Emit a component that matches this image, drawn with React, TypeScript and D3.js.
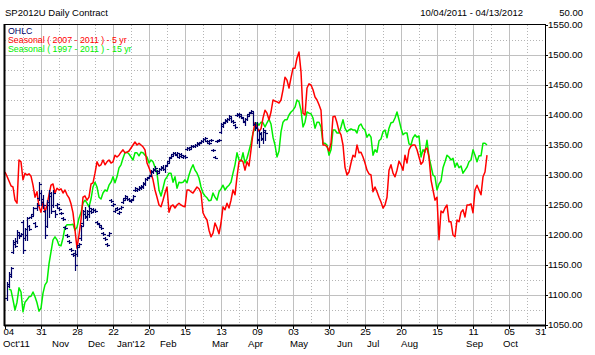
import React from 'react';
import * as d3 from 'd3';

const W = 595;
const H = 355;

const titleText = 'SP2012U Daily Contract';
const rangeText = '10/04/2011 - 04/13/2012';
const stepText = '50.00';
const legendItems = ['OHLC', 'Seasonal ( 2007 - 2011 ) - 5 yr', 'Seasonal ( 1997 - 2011 ) - 15 yr'];

const yTickValues = [1050, 1100, 1150, 1200, 1250, 1300, 1350, 1400, 1450, 1500, 1550];
const dayTickLabels = ['04', '31', '28', '22', '20', '15', '13', '09', '03', '30', '25', '20', '15', '11', '05', '31'];
const sessionsPerTick = 18;
const monthLabels = ["Oct'11", 'Nov', 'Dec', "Jan'12", 'Feb', 'Mar', 'Apr', 'May', 'Jun', 'Jul', 'Aug', 'Sep', 'Oct'];
const monthSessions = [-1, 23.5, 41.5, 56, 77.5, 103.5, 121.5, 142.5, 166, 181, 198, 230.5, 249];

// Seasonal 5 yr (2007-2011), one value per session starting at session 0
const redValues = [
  1305, 1298, 1290, 1282, 1280, 1258, 1253, 1325, 1322, 1292, 1303, 1300, 1302, 1298, 1283, 1263, 1272, 1247, 1238, 1255,
  1238, 1250, 1267, 1283, 1285, 1270, 1278, 1275, 1277, 1270, 1275, 1267, 1262, 1252, 1237, 1208, 1178, 1200, 1225, 1263,
  1265, 1258, 1263, 1285, 1287, 1303, 1322, 1315, 1317, 1325, 1317, 1322, 1325, 1320, 1322, 1333, 1330, 1333, 1338, 1342,
  1337, 1338, 1340, 1345, 1350, 1355, 1350, 1353, 1350, 1347, 1342, 1320, 1312, 1303, 1292, 1275, 1263, 1250, 1247, 1258,
  1270, 1280, 1238, 1248, 1250, 1245, 1250, 1253, 1250, 1248, 1247, 1275, 1275, 1272, 1270, 1275, 1280, 1277, 1270, 1237,
  1230, 1225, 1208, 1197, 1203, 1220, 1212, 1202, 1220, 1247, 1242, 1253, 1245, 1258, 1275, 1267, 1297, 1322, 1325, 1322,
  1308, 1322, 1315, 1342, 1370, 1387, 1380, 1373, 1377, 1395, 1408, 1403, 1392, 1405, 1425, 1423, 1422, 1420, 1425, 1442,
  1463, 1458, 1445, 1462, 1478, 1478, 1495, 1505, 1472, 1403, 1400, 1445, 1452, 1450, 1442, 1430, 1425, 1417, 1408, 1350,
  1350, 1347, 1340, 1353, 1397, 1398, 1387, 1373, 1367, 1350, 1313, 1300, 1305, 1320, 1333, 1330, 1350, 1337, 1338, 1330,
  1320, 1308, 1302, 1300, 1272, 1280, 1272, 1263, 1255, 1245, 1250, 1263, 1308, 1317, 1303, 1297, 1308, 1323, 1317, 1308,
  1333, 1320, 1342, 1348, 1350, 1350, 1342, 1330, 1318, 1322, 1342, 1345, 1330, 1292, 1275, 1258, 1263, 1192, 1240, 1237,
  1245, 1250, 1222, 1222, 1200, 1197, 1225, 1222, 1238, 1242, 1230, 1250, 1250, 1252, 1237, 1275, 1283, 1275, 1267, 1297,
  1305, 1333,
];

// Seasonal 15 yr (1997-2011), one value per session starting at greenStart
const greenStart = 2;
const greenValues = [
  1110, 1108, 1092, 1075, 1088, 1112, 1105, 1072, 1088, 1092, 1097, 1098, 1105, 1097, 1087, 1073, 1078, 1103, 1117, 1122,
  1152, 1172, 1192, 1197, 1192, 1183, 1182, 1195, 1213, 1217, 1217, 1217, 1218, 1208, 1213, 1228, 1237, 1253, 1258, 1253,
  1247, 1260, 1280, 1288, 1280, 1263, 1260, 1270, 1275, 1273, 1283, 1288, 1297, 1287, 1297, 1312, 1317, 1328, 1337, 1338,
  1335, 1330, 1325, 1337, 1337, 1332, 1338, 1337, 1333, 1330, 1320, 1325, 1322, 1313, 1303, 1275, 1265, 1278, 1292, 1297,
  1303, 1303, 1288, 1297, 1278, 1288, 1287, 1288, 1292, 1287, 1300, 1310, 1317, 1308, 1303, 1295, 1280, 1270, 1265, 1262,
  1257, 1258, 1270, 1263, 1258, 1272, 1277, 1283, 1275, 1280, 1283, 1288, 1303, 1317, 1337, 1325, 1323, 1337, 1320, 1328,
  1340, 1353, 1370, 1378, 1387, 1383, 1388, 1387, 1380, 1387, 1393, 1385, 1363, 1350, 1330, 1340, 1372, 1388, 1392, 1392,
  1400, 1405, 1408, 1413, 1425, 1422, 1408, 1380, 1388, 1405, 1403, 1402, 1395, 1378, 1388, 1388, 1380, 1353, 1353, 1350,
  1333, 1342, 1375, 1375, 1370, 1370, 1380, 1392, 1378, 1372, 1375, 1377, 1375, 1375, 1370, 1382, 1385, 1378, 1375, 1363,
  1368, 1363, 1333, 1342, 1338, 1357, 1360, 1372, 1375, 1362, 1378, 1387, 1388, 1395, 1405, 1392, 1378, 1367, 1370, 1370,
  1352, 1350, 1362, 1367, 1363, 1365, 1330, 1342, 1338, 1358, 1330, 1315, 1300, 1297, 1275, 1285, 1290, 1312, 1322, 1333,
  1330, 1325, 1328, 1313, 1320, 1312, 1315, 1303, 1308, 1313, 1322, 1325, 1342, 1333, 1322, 1332, 1332, 1353, 1353, 1350,
];

// Daily OHLC [open, high, low, close], first bar at session ohlcStart
const ohlcStart = 1;
const ohlcBars = [
  [1095, 1122, 1092, 1118], [1115, 1138, 1113, 1135], [1132, 1147, 1130, 1145], [1172, 1192, 1170, 1188], [1185, 1195, 1180, 1182],
  [1190, 1208, 1187, 1205], [1200, 1203, 1195, 1198], [1200, 1203, 1198, 1201], [1222, 1225, 1170, 1175], [1195, 1212, 1192, 1210],
  [1200, 1230, 1192, 1228], [1215, 1217, 1208, 1210], [1230, 1233, 1228, 1231], [1235, 1247, 1233, 1245], [1220, 1222, 1213, 1215],
  [1245, 1253, 1242, 1250], [1262, 1288, 1258, 1285], [1270, 1275, 1250, 1255], [1260, 1267, 1245, 1250], [1240, 1242, 1195, 1200],
  [1215, 1258, 1213, 1255], [1250, 1275, 1230, 1270], [1265, 1272, 1237, 1240], [1250, 1275, 1247, 1270], [1240, 1242, 1230, 1235],
  [1250, 1253, 1245, 1252], [1245, 1247, 1242, 1244], [1237, 1238, 1235, 1236], [1228, 1230, 1225, 1227], [1213, 1215, 1210, 1212],
  [1200, 1202, 1197, 1199], [1190, 1192, 1187, 1189], [1176, 1178, 1173, 1175], [1168, 1170, 1165, 1167], [1170, 1175, 1142, 1150],
  [1168, 1182, 1165, 1180], [1183, 1187, 1180, 1185], [1195, 1217, 1192, 1215], [1220, 1242, 1217, 1240], [1235, 1247, 1228, 1232],
  [1230, 1242, 1225, 1240], [1235, 1250, 1230, 1245], [1240, 1242, 1237, 1239], [1243, 1245, 1240, 1242], [1241, 1243, 1238, 1240],
  [1221, 1223, 1218, 1220], [1218, 1220, 1215, 1217], [1213, 1215, 1210, 1212], [1203, 1205, 1200, 1202], [1195, 1197, 1192, 1194],
  [1185, 1187, 1182, 1184], [1200, 1205, 1198, 1203], [1258, 1260, 1255, 1257], [1250, 1253, 1248, 1251], [1240, 1243, 1238, 1241],
  [1245, 1247, 1242, 1244], [1237, 1240, 1235, 1238], [1245, 1248, 1243, 1246], [1255, 1260, 1253, 1258], [1262, 1267, 1260, 1265],
  [1262, 1265, 1258, 1260], [1260, 1262, 1257, 1259], [1257, 1260, 1255, 1258], [1260, 1267, 1258, 1265], [1275, 1280, 1273, 1278],
  [1275, 1278, 1273, 1276], [1277, 1282, 1275, 1280], [1279, 1283, 1277, 1281], [1280, 1288, 1278, 1286], [1285, 1295, 1283, 1293],
  [1294, 1297, 1292, 1295], [1297, 1300, 1295, 1298], [1300, 1308, 1298, 1306], [1305, 1312, 1303, 1310], [1309, 1315, 1307, 1312],
  [1306, 1308, 1302, 1304], [1307, 1312, 1305, 1310], [1310, 1315, 1308, 1313], [1312, 1317, 1308, 1310], [1310, 1317, 1305, 1315],
  [1317, 1322, 1315, 1320], [1324, 1330, 1322, 1328], [1330, 1333, 1328, 1331], [1335, 1338, 1333, 1336], [1336, 1338, 1333, 1335],
  [1334, 1338, 1332, 1337], [1330, 1333, 1328, 1331], [1335, 1337, 1333, 1334], [1330, 1333, 1328, 1332], [1331, 1333, 1328, 1330],
  [1343, 1347, 1342, 1345], [1345, 1347, 1342, 1344], [1346, 1350, 1345, 1349], [1348, 1350, 1347, 1349], [1349, 1352, 1347, 1350],
  [1350, 1355, 1348, 1353], [1352, 1355, 1350, 1354], [1355, 1358, 1353, 1357], [1357, 1362, 1355, 1360], [1360, 1363, 1358, 1362],
  [1357, 1358, 1355, 1356], [1354, 1355, 1352, 1353], [1358, 1360, 1357, 1359], [1342, 1343, 1340, 1341], [1330, 1332, 1328, 1329],
  [1356, 1358, 1355, 1357], [1358, 1360, 1357, 1359], [1372, 1387, 1370, 1385], [1382, 1388, 1380, 1386], [1388, 1393, 1387, 1391],
  [1390, 1395, 1388, 1393], [1394, 1400, 1392, 1398], [1395, 1397, 1388, 1390], [1390, 1392, 1387, 1388], [1383, 1385, 1378, 1380],
  [1400, 1403, 1398, 1401], [1400, 1403, 1397, 1402], [1398, 1400, 1395, 1397], [1395, 1397, 1388, 1390], [1388, 1395, 1383, 1393],
  [1394, 1400, 1392, 1398], [1402, 1405, 1400, 1403], [1405, 1408, 1403, 1406], [1403, 1405, 1383, 1385], [1385, 1388, 1375, 1378],
  [1380, 1388, 1353, 1358], [1360, 1375, 1347, 1370], [1368, 1372, 1358, 1362], [1360, 1378, 1353, 1375], [1372, 1375, 1358, 1370],
];

const FONT = "'Liberation Sans', Arial, sans-serif";
const NAVY = '#000068';
const RED = '#ff0000';
const GREEN = '#00ee00';

export default function App() {
  const left = 5;
  const right = 545;
  const top = 25;
  const bottom = 325;
  const nTicks = dayTickLabels.length - 1;
  const x = d3.scaleLinear().domain([0, nTicks * sessionsPerTick]).range([left, right]);
  const y = d3.scaleLinear().domain([yTickValues[0], yTickValues[yTickValues.length - 1]]).range([bottom, top]);

  const redPath = d3
    .line<number>()
    .x((_, i) => x(i))
    .y((d) => y(d))(redValues);
  const greenPath = d3
    .line<number>()
    .x((_, i) => x(i + greenStart))
    .y((d) => y(d))(greenValues);

  const tickSessions = d3.range(0, nTicks + 1).map((k) => k * sessionsPerTick);
  const midSessions = d3.range(0, nTicks).map((k) => k * sessionsPerTick + sessionsPerTick / 2);
  const yStep = yTickValues[1] - yTickValues[0];
  const yMid = yTickValues.slice(0, -1).map((v) => v + yStep / 2);

  return (
    <svg width={W} height={H} style={{ position: 'absolute', left: 0, top: 0, background: '#fff' }}>
      <rect x={0} y={0} width={W} height={H} fill="#fff" />
      {/* grid */}
      {midSessions.map((s) => (
        <line key={'vm' + s} x1={Math.round(x(s)) + 0.5} x2={Math.round(x(s)) + 0.5} y1={top} y2={bottom} stroke="#b4b4b4" strokeDasharray="1,2" />
      ))}
      {tickSessions.slice(1, -1).map((s) => (
        <line key={'vt' + s} x1={Math.round(x(s)) + 0.5} x2={Math.round(x(s)) + 0.5} y1={top} y2={bottom} stroke="#c0c0c0" />
      ))}
      {yMid.map((v) => (
        <line key={'hm' + v} x1={left} x2={right} y1={Math.round(y(v)) + 0.5} y2={Math.round(y(v)) + 0.5} stroke="#b4b4b4" strokeDasharray="1,2" />
      ))}
      {yTickValues.slice(1, -1).map((v) => (
        <line key={'ht' + v} x1={left} x2={right} y1={Math.round(y(v)) + 0.5} y2={Math.round(y(v)) + 0.5} stroke="#c0c0c0" />
      ))}

      {/* seasonal lines */}
      <path d={greenPath || ''} fill="none" stroke={GREEN} strokeWidth={1.5} strokeLinejoin="round" />
      <path d={redPath || ''} fill="none" stroke={RED} strokeWidth={1.5} strokeLinejoin="round" />

      {/* OHLC */}
      {ohlcBars.map((b, i) => {
        const cx = Math.round(x(i + ohlcStart)) + 0.5;
        const [o, h, l, c] = b;
        const yo = Math.round(y(o)) + 0.5;
        const yc = Math.round(y(c)) + 0.5;
        return (
          <g key={'b' + i} stroke={NAVY} strokeWidth={1.2}>
            <line x1={cx} x2={cx} y1={Math.round(y(h))} y2={Math.round(y(l)) + 1} />
            <line x1={cx - 2.5} x2={cx} y1={yo} y2={yo} />
            <line x1={cx} x2={cx + 2.5} y1={yc} y2={yc} />
          </g>
        );
      })}

      {/* frame */}
      <line x1={left} x2={right} y1={top - 0.5} y2={top - 0.5} stroke="#000" />
      <line x1={left - 0.5} x2={left - 0.5} y1={top - 1} y2={bottom + 1} stroke="#000" strokeWidth={2} />
      <line x1={right + 0.5} x2={right + 0.5} y1={top - 1} y2={bottom + 1} stroke="#000" />
      <line x1={left - 1} x2={right + 1} y1={bottom + 0.5} y2={bottom + 0.5} stroke="#000" strokeWidth={2} />

      {/* y axis ticks + labels */}
      {yTickValues.map((v) => (
        <g key={'yl' + v}>
          <line x1={right} x2={right + 3} y1={Math.round(y(v)) + 0.5} y2={Math.round(y(v)) + 0.5} stroke="#000" />
          <text x={right + 3} y={y(v)} dy="0.35em" fontFamily={FONT} fontSize={9.6} fill="#000">
            {d3.format('.2f')(v)}
          </text>
        </g>
      ))}

      {/* x axis ticks + labels */}
      {tickSessions.map((s, k) => {
        const px = Math.round(x(s)) + 0.5;
        const anchor = k === 0 ? 'start' : k === tickSessions.length - 1 ? 'end' : 'middle';
        const tx = k === 0 ? px - 2 : k === tickSessions.length - 1 ? px + 0.5 : px;
        return (
          <g key={'xt' + s}>
            <line x1={px} x2={px} y1={bottom} y2={bottom + 4} stroke="#000" />
            <text x={tx} y={335} textAnchor={anchor} fontFamily={FONT} fontSize={9.6} fill="#000">
              {dayTickLabels[k]}
            </text>
          </g>
        );
      })}
      {monthLabels.map((m, i) => (
        <text key={'m' + i} x={x(monthSessions[i])} y={347} fontFamily={FONT} fontSize={9.6} fill="#000">
          {m}
        </text>
      ))}

      {/* header */}
      <text x={5} y={16} fontFamily={FONT} fontSize={9.5} fill="#000">{titleText}</text>
      <text x={523} y={16} textAnchor="end" fontFamily={FONT} fontSize={9.5} fill="#000">{rangeText}</text>
      <text x={583} y={16} textAnchor="end" fontFamily={FONT} fontSize={9.5} fill="#000">{stepText}</text>

      {/* legend */}
      {legendItems.map((t, i) => (
        <text key={'lg' + i} x={8} y={33.5 + i * 9.3} fontFamily={FONT} fontSize={8.8} fill={[NAVY, RED, GREEN][i]}>
          {t}
        </text>
      ))}
    </svg>
  );
}
